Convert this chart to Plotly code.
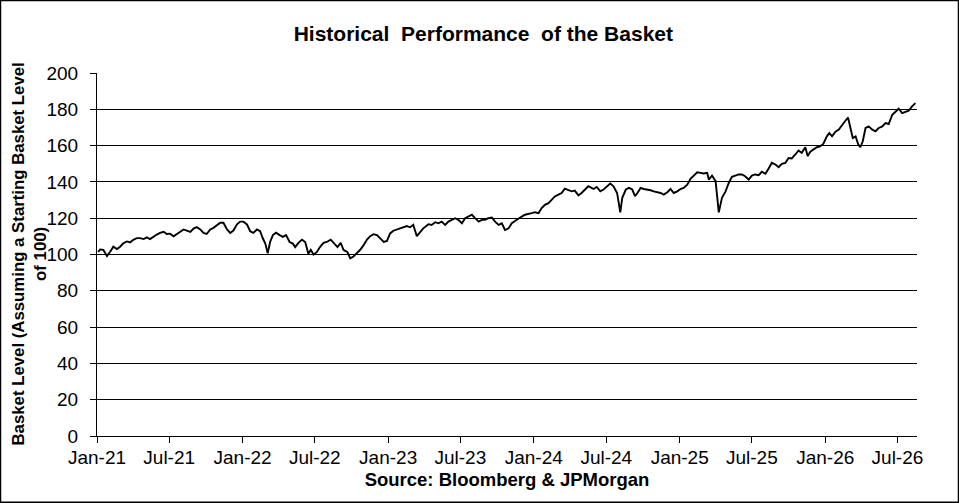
import plotly.graph_objects as go

# Данные корзины
dates = [
    '2021-01-04', '2021-01-09', '2021-01-17', '2021-01-26', '2021-02-03', '2021-02-11',
    '2021-02-20', '2021-02-28', '2021-03-08', '2021-03-17', '2021-03-25', '2021-04-02',
    '2021-04-11', '2021-04-19', '2021-04-28', '2021-05-06', '2021-05-14', '2021-05-23',
    '2021-05-31', '2021-06-08', '2021-06-17', '2021-06-25', '2021-07-03', '2021-07-12',
    '2021-07-20', '2021-07-29', '2021-08-06', '2021-08-14', '2021-08-23', '2021-08-31',
    '2021-09-08', '2021-09-17', '2021-09-25', '2021-10-03', '2021-10-12', '2021-10-20',
    '2021-10-29', '2021-11-06', '2021-11-14', '2021-11-23', '2021-12-01', '2021-12-09',
    '2021-12-18', '2021-12-26', '2022-01-03', '2022-01-12', '2022-01-20', '2022-01-28',
    '2022-02-06', '2022-02-14', '2022-02-21', '2022-02-27', '2022-03-05', '2022-03-11',
    '2022-03-18', '2022-03-26', '2022-04-04', '2022-04-12', '2022-04-20', '2022-04-29',
    '2022-05-07', '2022-05-13', '2022-05-21', '2022-05-30', '2022-06-07', '2022-06-15',
    '2022-06-21', '2022-06-28', '2022-07-06', '2022-07-14', '2022-07-23', '2022-07-31',
    '2022-08-10', '2022-08-18', '2022-08-27', '2022-09-04', '2022-09-11', '2022-09-21',
    '2022-09-28', '2022-10-06', '2022-10-14', '2022-10-23', '2022-10-31', '2022-11-09',
    '2022-11-17', '2022-11-25', '2022-12-04', '2022-12-12', '2022-12-21', '2022-12-29',
    '2023-01-06', '2023-01-14', '2023-01-23', '2023-01-31', '2023-02-08', '2023-02-17',
    '2023-02-25', '2023-03-05', '2023-03-14', '2023-03-22', '2023-03-30', '2023-04-12',
    '2023-04-20', '2023-04-29', '2023-05-07', '2023-05-15', '2023-05-24', '2023-06-01',
    '2023-06-09', '2023-06-18', '2023-06-26', '2023-07-05', '2023-07-13', '2023-07-21',
    '2023-07-30', '2023-08-07', '2023-08-16', '2023-08-24', '2023-09-01', '2023-09-09',
    '2023-09-18', '2023-09-26', '2023-10-05', '2023-10-13', '2023-10-21', '2023-10-30',
    '2023-11-07', '2023-11-15', '2023-11-24', '2023-12-02', '2023-12-10', '2023-12-19',
    '2023-12-27', '2024-01-04', '2024-01-13', '2024-01-21', '2024-01-29', '2024-02-07',
    '2024-02-15', '2024-02-23', '2024-03-03', '2024-03-11', '2024-03-19', '2024-03-28',
    '2024-04-05', '2024-04-13', '2024-04-22', '2024-04-30', '2024-05-09', '2024-05-17',
    '2024-05-25', '2024-05-30', '2024-06-07', '2024-06-16', '2024-06-24', '2024-07-03',
    '2024-07-11', '2024-07-19', '2024-07-28', '2024-08-05', '2024-08-10', '2024-08-19',
    '2024-08-27', '2024-09-04', '2024-09-11', '2024-09-17', '2024-09-25', '2024-10-03',
    '2024-10-12', '2024-10-20', '2024-10-28', '2024-11-06', '2024-11-14', '2024-11-22',
    '2024-12-01', '2024-12-09', '2024-12-17', '2024-12-26', '2025-01-03', '2025-01-11',
    '2025-01-20', '2025-01-28', '2025-02-05', '2025-02-14', '2025-02-22', '2025-03-02',
    '2025-03-11', '2025-03-15', '2025-03-23', '2025-04-01', '2025-04-09', '2025-04-17',
    '2025-04-26', '2025-05-04', '2025-05-12', '2025-05-21', '2025-05-29', '2025-06-06',
    '2025-06-14', '2025-06-23', '2025-07-01', '2025-07-09', '2025-07-18', '2025-07-26',
    '2025-08-04', '2025-08-12', '2025-08-20', '2025-08-29', '2025-09-06', '2025-09-14',
    '2025-09-23', '2025-10-01', '2025-10-09', '2025-10-18', '2025-10-26', '2025-11-03',
    '2025-11-12', '2025-11-18', '2025-11-24', '2025-12-02', '2025-12-11', '2025-12-19',
    '2025-12-27', '2026-01-05', '2026-01-11', '2026-01-18', '2026-01-26', '2026-02-04',
    '2026-02-12', '2026-02-19', '2026-02-27', '2026-03-05', '2026-03-11', '2026-03-18',
    '2026-03-25', '2026-03-30', '2026-04-05', '2026-04-12', '2026-04-20', '2026-04-29',
    '2026-05-07', '2026-05-15', '2026-05-24', '2026-06-01', '2026-06-09', '2026-06-18',
    '2026-06-26', '2026-07-04', '2026-07-13', '2026-07-21', '2026-07-29', '2026-08-06',
    '2026-08-15',
]

basket_level = [
    101.5, 102.8, 102.5, 99.2, 101.5, 104.3,
    103.0, 104.3, 106.2, 107.2, 106.6, 108.1,
    109.0, 109.0, 108.5, 109.4, 108.5, 110.0,
    111.0, 111.9, 112.5, 111.3, 111.5, 110.0,
    111.3, 112.3, 113.8, 113.2, 112.5, 114.3,
    115.1, 113.8, 111.9, 111.3, 113.8, 114.7,
    116.2, 117.5, 117.5, 113.8, 111.9, 113.2,
    116.6, 118.1, 118.1, 116.6, 112.8, 111.9,
    113.8, 112.8, 108.8, 106.0, 100.7, 106.9,
    110.7, 112.0, 110.7, 109.7, 110.7, 106.9,
    106.0, 104.1, 106.4, 108.2, 106.9, 100.4,
    102.6, 100.0, 101.3, 104.1, 106.4, 106.9,
    108.2, 106.4, 104.1, 106.4, 102.6, 101.3,
    97.9, 98.9, 100.4, 102.6, 105.0, 108.2,
    110.1, 111.2, 110.7, 108.8, 106.9, 107.5,
    111.6, 113.1, 113.8, 114.4, 115.0, 115.7,
    115.0, 116.3, 110.1, 112.5, 114.4, 116.7,
    116.3, 117.8, 117.2, 118.1, 116.3, 118.1,
    119.1, 120.0, 119.1, 117.2, 120.0, 120.9,
    121.9, 120.0, 118.1, 119.1, 119.1, 120.0,
    120.4, 118.1, 116.3, 117.2, 113.5, 114.4,
    117.2, 118.5, 120.0, 120.9, 121.9, 122.2,
    122.8, 123.3, 122.8, 125.6, 127.4, 128.3,
    130.2, 132.0, 133.0, 133.9, 136.3, 135.7,
    134.8, 135.2, 132.6, 133.9, 135.7, 137.6,
    136.7, 136.1, 137.2, 134.8, 135.8, 137.6,
    139.1, 137.6, 133.9, 123.2, 131.2, 135.8,
    136.7, 135.8, 132.1, 133.9, 136.7, 136.1,
    135.8, 135.4, 134.8, 134.3, 133.9, 133.0,
    134.3, 136.1, 133.9, 134.8, 136.1, 136.7,
    138.5, 141.7, 143.5, 145.3, 145.0, 144.6,
    145.0, 141.3, 143.5, 140.4, 123.2, 131.2,
    134.8, 139.4, 142.8, 143.5, 144.1, 144.1,
    143.1, 141.3, 143.5, 144.1, 143.7, 145.6,
    144.5, 147.4, 150.5, 149.6, 148.1, 150.0,
    150.5, 153.2, 152.9, 155.1, 157.3, 156.0,
    159.1, 154.2, 156.5, 157.8, 159.1, 159.6,
    160.9, 165.1, 166.9, 165.1, 167.5, 168.8,
    171.5, 173.3, 175.5, 170.6, 164.2, 165.1,
    160.5, 159.1, 162.4, 169.7, 170.6, 168.8,
    167.9, 169.7, 170.6, 172.4, 171.9, 177.0,
    178.8, 180.3, 177.9, 178.4, 179.2, 181.5,
    183.4,
]

x_range = ['2021-01-01', '2026-08-19']
y_ticks = list(range(0, 201, 20))

FONT = 'Liberation Sans, Arial, sans-serif'

fig = go.Figure(go.Scatter(
    x=dates,
    y=basket_level,
    mode='lines',
    line=dict(color='black', width=1.9),
    showlegend=False,
))

fig.update_layout(
    width=959,
    height=503,
    margin=dict(l=97, r=42, t=73, b=67),
    paper_bgcolor='white',
    plot_bgcolor='white',
    font=dict(family=FONT, color='black', size=19),
    title=dict(
        text='<b>Historical&nbsp;&nbsp;Performance&nbsp;&nbsp;of the Basket</b>',
        font=dict(size=21),
        x=0.504, xref='container', xanchor='center',
        y=1 - 34 / 503, yref='container', yanchor='middle',
    ),
    xaxis=dict(
        type='date',
        range=x_range,
        tick0='2021-01-01',
        dtick='M6',
        tickformat='%b-%y',
        showgrid=False,
        showline=True, linecolor='black', linewidth=1,
        ticks='outside', ticklen=6, tickcolor='black',
        ticklabelstandoff=-2,
        zeroline=False,
        title=dict(text='<b>Source: Bloomberg & JPMorgan</b>',
                   font=dict(size=18.5), standoff=6),
    ),
    yaxis=dict(
        range=[0, 200],
        tickvals=y_ticks,
        showgrid=True, gridcolor='black', gridwidth=1,
        showline=True, linecolor='black', linewidth=1,
        ticks='outside', ticklen=6, tickcolor='black',
        ticklabelstandoff=8,
        zeroline=False,
    ),
)

# Подпись оси Y в две строки (вторая строка по центру)
fig.add_annotation(
    text='<b>Basket Level (Assuming a Starting Basket Level<br>of 100)</b>',
    xref='paper', yref='paper',
    x=-0.082, y=0.502,
    xanchor='center', yanchor='middle',
    textangle=-90, align='center',
    showarrow=False,
    font=dict(size=16.8),
)

# Рамка вокруг всего рисунка
fig.add_shape(
    type='rect', xref='paper', yref='paper',
    x0=-0.1177, x1=1.0506, y0=-0.1822, y1=1.1996,
    line=dict(color='black', width=1.5),
    fillcolor='rgba(0,0,0,0)',
    layer='above',
)

# Убираем отступ страницы, чтобы рисунок начинался с угла окна
fig.write_html('out.html', config={'displayModeBar': False},
               post_script="document.body.style.margin = '0';")
